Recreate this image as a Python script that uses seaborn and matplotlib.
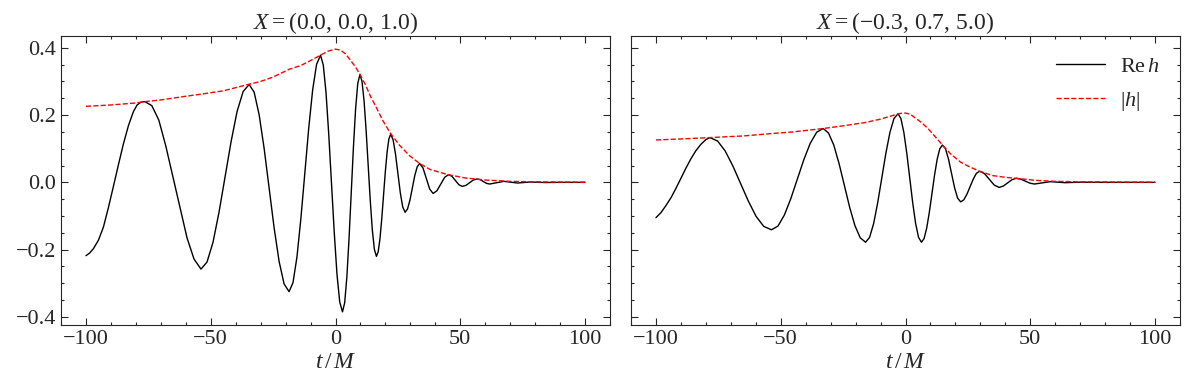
import matplotlib
matplotlib.use("Agg")
import matplotlib.pyplot as plt
from matplotlib.ticker import MultipleLocator
import seaborn as sns

# values (t/M, value)
t_re_left = [-100, -98.5, -97, -95, -93, -91, -89, -87, -85, -83, -81, -79.5, -78, -76.4,
             -73.6, -70.8, -68, -65.2, -62.3, -59.5, -56.7, -53.9,
             -51.49, -49.08, -46.66, -44.25, -41.84, -39.43, -37.01, -34.6,
             -32.6, -30.6, -28.6, -26.6, -24.6, -22.6, -20.6, -18.6,
             -17.03, -15.45, -13.88, -12.3, -10.73, -9.15, -7.58, -6.0,
             -4.9, -3.8, -2.7, -1.6, -0.5, 0.6, 1.7, 2.8,
             3.675, 4.55, 5.425, 6.3, 7.175, 8.05, 8.925, 9.8,
             10.625, 11.45, 12.275, 13.1, 13.925, 14.75, 15.575, 16.4,
             17.11, 17.83, 18.54, 19.25, 19.96, 20.68, 21.39, 22.1,
             23.07, 24.03, 25.0, 25.97, 26.93, 27.9,
             28.87, 29.83, 30.8, 31.77, 32.73, 33.7,
             35.05, 36.4, 37.75, 39.1,
             40.65, 42.2, 43.75, 45.3,
             46.68, 48.05, 49.43, 50.8,
             52.28, 53.75, 55.23, 56.7,
             58.0, 59.25, 60.5, 61.8,
             64.6, 67.5, 70.2, 73, 78, 84, 90, 100]
re_left = [-0.218, -0.210, -0.197, -0.172, -0.133, -0.075, -0.012, 0.052, 0.114, 0.168,
           0.210, 0.230, 0.238, 0.240,
           0.228, 0.185, 0.108, 0.018, -0.075, -0.165, -0.228, -0.258,
           -0.237, -0.178, -0.088, 0.0165, 0.121, 0.211, 0.270, 0.291,
           0.268, 0.201, 0.101, -0.017, -0.135, -0.235, -0.302, -0.325,
           -0.298, -0.222, -0.108, 0.0265, 0.161, 0.275, 0.351, 0.378,
           0.349, 0.267, 0.142, -0.0035, -0.149, -0.274, -0.356, -0.385,
           -0.358, -0.282, -0.167, -0.032, 0.103, 0.218, 0.294, 0.321,
           0.300, 0.242, 0.154, 0.0505, -0.053, -0.141, -0.199, -0.220,
           -0.206, -0.167, -0.108, -0.0385, 0.031, 0.090, 0.129, 0.143,
           0.127, 0.085, 0.027, -0.031, -0.073, -0.089,
           -0.079, -0.053, -0.0165, 0.020, 0.046, 0.056,
           0.043, 0.0115, -0.020, -0.033,
           -0.025, -0.005, 0.015, 0.023,
           0.018, 0.0055, -0.007, -0.012,
           -0.009, -0.001, 0.007, 0.010,
           0.008, 0.0025, -0.003, -0.005,
           -0.001, 0.003, 0.0005, -0.002, 0.001, -0.0005, 0.0, 0.0]

t_abs_left = [-100, -90, -80, -76.4, -70, -60, -54, -45, -35, -30, -25, -18.6,
              -14, -10, -6, -3, 0, 2, 4, 6, 8, 9.8, 12, 14, 16.4, 19, 22.1,
              25.7, 29.7, 33.7, 38, 45, 52, 60, 70, 80, 100]
abs_left = [0.226, 0.230, 0.236, 0.240, 0.245, 0.256, 0.262, 0.272, 0.291, 0.300,
            0.313, 0.336, 0.347, 0.362, 0.378, 0.390, 0.396, 0.393, 0.382, 0.363,
            0.343, 0.321, 0.290, 0.256, 0.222, 0.183, 0.145, 0.110, 0.079, 0.056,
            0.038, 0.023, 0.013, 0.007, 0.003, 0.0015, 0.0005]

t_re_right = [-100, -98, -96, -94, -92, -90, -88, -86, -84, -82, -80, -78.4,
              -75.31, -72.23, -69.14, -66.05, -62.96, -59.88, -56.79, -53.7,
              -51.11, -48.53, -45.94, -43.35, -40.76, -38.18, -35.59, -33.0,
              -30.88, -28.75, -26.63, -24.5, -22.38, -20.25, -18.13, -16.0,
              -14.38, -12.75, -11.13, -9.5, -7.88, -6.25, -4.63, -3.0,
              -1.825, -0.65, 0.525, 1.7, 2.875, 4.05, 5.225, 6.4,
              7.45, 8.5, 9.55, 10.6, 11.65, 12.7, 13.75, 14.8,
              16.02, 17.23, 18.45, 19.67, 20.88, 22.1,
              23.37, 24.63, 25.9, 27.17, 28.43, 29.7,
              31.65, 33.6, 35.55, 37.5,
              39.2, 40.95, 42.7, 44.4,
              46.2, 48.05, 49.9, 51.7,
              58, 64, 70, 80, 100]
re_right = [-0.105, -0.090, -0.069, -0.046, -0.018, 0.012, 0.042, 0.070, 0.094, 0.113,
            0.127, 0.133,
            0.123, 0.093, 0.048, -0.004, -0.056, -0.101, -0.131, -0.141,
            -0.130, -0.097, -0.048, 0.0095, 0.067, 0.116, 0.149, 0.160,
            0.147, 0.111, 0.056, -0.009, -0.074, -0.129, -0.165, -0.178,
            -0.1635, -0.122, -0.060, 0.013, 0.086, 0.148, 0.1895, 0.204,
            0.1895, 0.148, 0.086, 0.013, -0.060, -0.122, -0.1635, -0.178,
            -0.167, -0.136, -0.0887, -0.0335, 0.022, 0.069, 0.100, 0.111,
            0.100, 0.069, 0.0265, -0.016, -0.047, -0.058,
            -0.052, -0.035, -0.0125, 0.010, 0.027, 0.033,
            0.026, 0.009, -0.008, -0.015,
            -0.011, -0.0015, 0.008, 0.012,
            0.0095, 0.0035, -0.0025, -0.005,
            0.002, -0.001, 0.0005, 0.0, 0.0]

t_abs_right = [-100, -90, -78.4, -65, -53.7, -45, -33, -25, -16, -10, -5, -2, 0,
               2, 4, 6.4, 9, 12, 14.8, 18, 22.1, 25.7, 29.7, 35, 40, 44.4, 52,
               60, 70, 100]
abs_right = [0.126, 0.129, 0.133, 0.138, 0.145, 0.150, 0.160, 0.168, 0.178, 0.188,
             0.199, 0.205, 0.206, 0.202, 0.191, 0.178, 0.160, 0.135, 0.111, 0.085,
             0.060, 0.046, 0.033, 0.020, 0.015, 0.012, 0.006, 0.003, 0.0015, 0.0005]

titles = [r'$X = (0.0,\, 0.0,\, 1.0)$', r'$X = (-0.3,\, 0.7,\, 5.0)$']

sns.set_theme(style='ticks')
plt.rcParams['font.family'] = ['Liberation Serif', 'DejaVu Serif']
plt.rcParams['mathtext.fontset'] = 'custom'
plt.rcParams['mathtext.rm'] = 'Liberation Serif'
plt.rcParams['mathtext.it'] = 'Liberation Serif:italic'

fig, axes = plt.subplots(1, 2, figsize=(11.89, 3.9), dpi=100, sharey=True)
fig.subplots_adjust(left=61/1189, right=1180/1189, bottom=1-325/390, top=1-36/390,
                    wspace=21/549)

data = [(t_re_left, re_left, t_abs_left, abs_left),
        (t_re_right, re_right, t_abs_right, abs_right)]

for ax, (tr, re, ta, ab), title in zip(axes, data, titles):
    sns.lineplot(x=tr, y=re, ax=ax, color='black', lw=1.0, label=r'$\mathrm{Re}\,h$',
                 sort=False, estimator=None)
    sns.lineplot(x=ta, y=ab, ax=ax, color='red', lw=1.0, linestyle='--', label=r'$|h|$',
                 sort=False, estimator=None)
    ax.set_title(title, fontsize=17, pad=5)
    ax.set_xlabel(r'$t\,/\,M$', fontsize=17, labelpad=2)
    ax.set_ylabel('')
    ax.set_xlim(-110, 110)
    ax.xaxis.set_major_locator(MultipleLocator(50))
    ax.xaxis.set_minor_locator(MultipleLocator(10))
    ax.yaxis.set_major_locator(MultipleLocator(0.2))
    ax.yaxis.set_minor_locator(MultipleLocator(0.05))
    ax.tick_params(which='both', direction='in', top=True, right=True, labelsize=16,
                   width=0.8)
    ax.tick_params(which='major', length=5)
    ax.tick_params(which='minor', length=2.5)
    for s in ax.spines.values():
        s.set_linewidth(0.8)

axes[0].get_legend().remove()
axes[1].legend(loc='upper right', frameon=False, fontsize=16, handlelength=2.2,
               handletextpad=0.7, labelspacing=0.6)
axes[1].tick_params(labelleft=False)

plt.savefig('out.png', dpi=100)
